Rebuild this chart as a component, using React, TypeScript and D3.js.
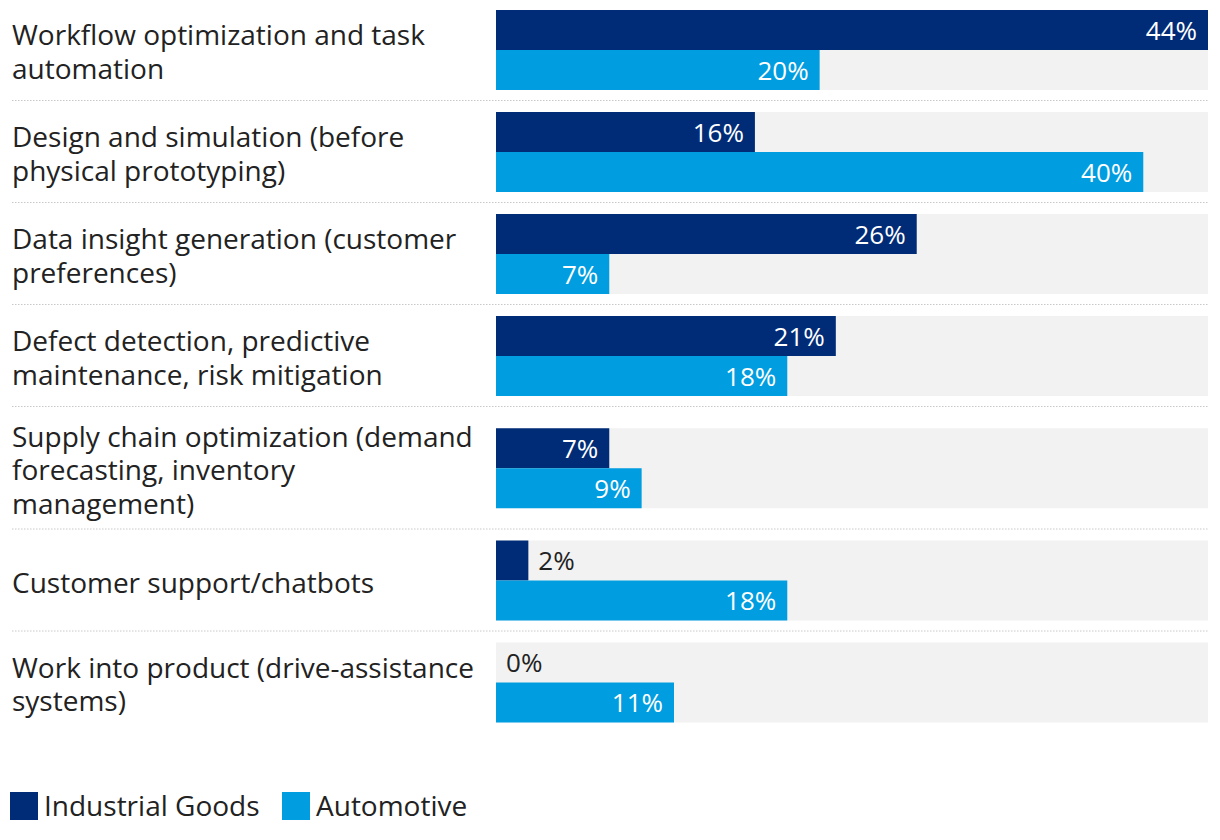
import React from "react";
import * as d3 from "d3";

const categories: string[] = [
  "Workflow optimization and task|automation",
  "Design and simulation (before|physical prototyping)",
  "Data insight generation (customer|preferences)",
  "Defect detection, predictive|maintenance, risk mitigation",
  "Supply chain optimization (demand|forecasting, inventory|management)",
  "Customer support/chatbots",
  "Work into product (drive-assistance|systems)",
];
const industrialGoods: number[] = [44, 16, 26, 21, 7, 2, 0];
const automotive: number[] = [20, 40, 7, 18, 9, 18, 11];
const seriesNames: string[] = ["Industrial Goods", "Automotive"];
const seriesColors: string[] = ["#002C77", "#009DE0"];

const W = 1220;
const H = 840;
const FONT = "'Open Sans', 'Noto Sans', sans-serif";

export default function App() {
  const x0 = 496;
  const x1 = 1208;
  const x = d3.scaleLinear().domain([0, 44]).range([x0, x1]);
  const barH = 40;
  const lineH = 33.5;

  let cursor = 10;
  const groups = categories.map((c, i) => {
    const lines = c.split("|");
    const h = Math.max(barH * 2, lines.length * lineH);
    const g = { lines, top: cursor, h, i };
    cursor = cursor + h + 22;
    return g;
  });

  return (
    <svg
      width={W}
      height={H}
      style={{ position: "absolute", left: 0, top: 0, display: "block" }}
      fontFamily={FONT}
    >
      <rect x={0} y={0} width={W} height={H} fill="#fff" />
      {groups.map((g) => {
        const barTop = g.top + (g.h - barH * 2) / 2;
        const center = g.top + g.h / 2;
        const vals = [industrialGoods[g.i], automotive[g.i]];
        const firstY = center - ((g.lines.length - 1) / 2) * lineH + 12;
        return (
          <g key={g.i}>
            <rect x={x0} y={barTop} width={x1 - x0} height={barH * 2} fill="#F2F2F2" />
            {vals.map((v, k) => {
              const y = barTop + k * barH;
              const w = x(v) - x0;
              const inside = w > 60;
              return (
                <g key={k}>
                  {w > 0 && (
                    <rect x={x0} y={y} width={w} height={barH} fill={seriesColors[k]} />
                  )}
                  <text
                    x={inside ? x(v) - 11 : x(v) + 10}
                    y={y + barH / 2 + 9.5}
                    textAnchor={inside ? "end" : "start"}
                    fontSize={26}
                    fill={inside ? "#fff" : "#222"}
                  >
                    {v}%
                  </text>
                </g>
              );
            })}
            <text x={12} y={firstY} fontSize={28} fill="#222">
              {g.lines.map((ln, j) => (
                <tspan key={j} x={12} dy={j === 0 ? 0 : lineH}>
                  {ln}
                </tspan>
              ))}
            </text>
            {g.i < categories.length - 1 && (
              <line
                x1={12}
                x2={x1}
                y1={g.top + g.h + 10.5}
                y2={g.top + g.h + 10.5}
                stroke="#c8c8c8"
                strokeWidth={1}
                strokeDasharray="1.5 1.5"
              />
            )}
          </g>
        );
      })}
      <g>
        {seriesNames.map((n, k) => {
          const lx = k === 0 ? 10 : 282;
          return (
            <g key={n}>
              <rect x={lx} y={792} width={28} height={28} fill={seriesColors[k]} />
              <text x={lx + 34} y={816} fontSize={28} fill="#222">
                {n}
              </text>
            </g>
          );
        })}
      </g>
    </svg>
  );
}
